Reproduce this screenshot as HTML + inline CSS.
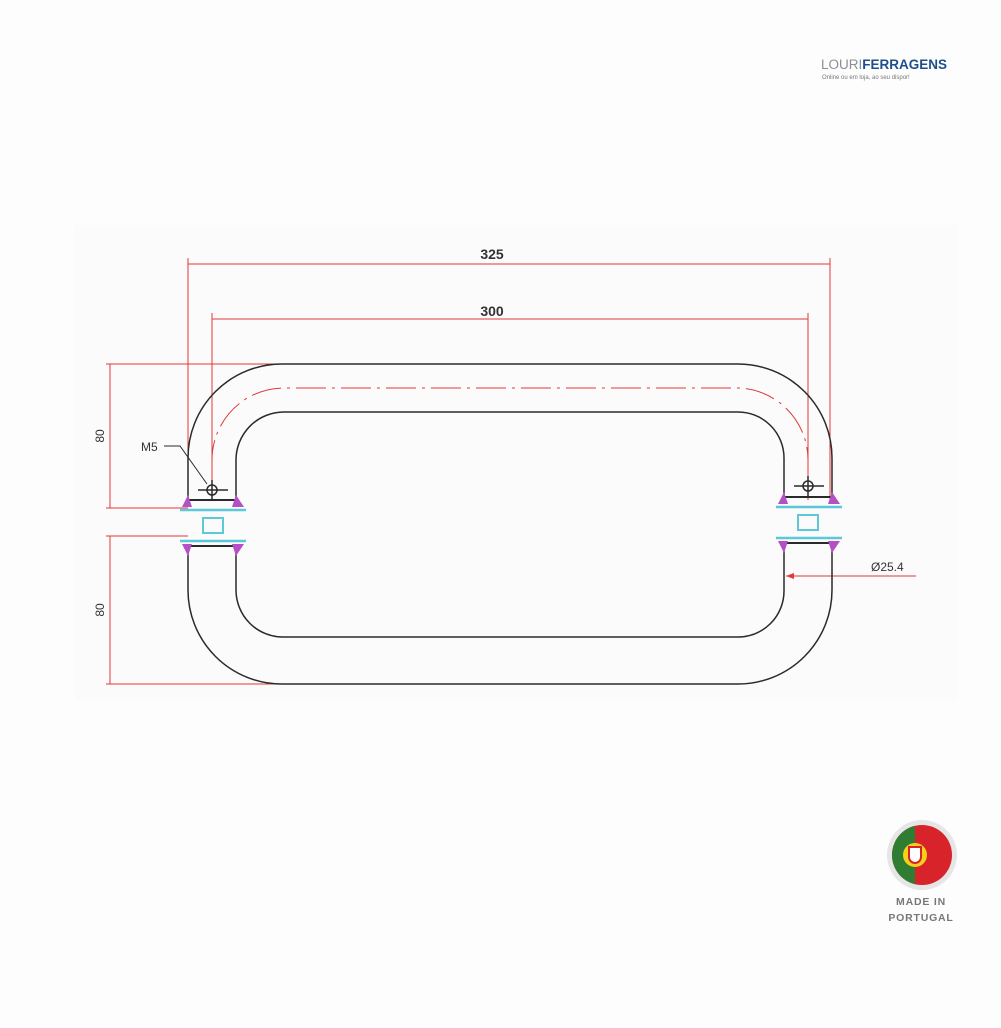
<!DOCTYPE html>
<html><head><style>
html,body{margin:0;padding:0;background:#fdfdfd;}
svg{display:block;}
</style></head><body>
<svg width="1001" height="1028" viewBox="0 0 1001 1028" xmlns="http://www.w3.org/2000/svg" font-family="Liberation Sans, sans-serif">
<rect width="1001" height="1028" fill="#fdfdfd"/>
<rect x="75" y="225" width="883" height="475" fill="#fbfbfb"/>
<!-- logo -->
<text x="821" y="69" font-size="13.5" fill="#8a8f96">LOURI<tspan fill="#1f4f8a" font-weight="bold">FERRAGENS</tspan></text>
<text x="822" y="79" font-size="6" fill="#777">Online ou em loja, ao seu dispor!</text>
<g fill="none" stroke-width="1.2">
<g stroke="#e03a3a" stroke-width="1">
<line x1="188" y1="264" x2="830" y2="264"/>
<line x1="212" y1="319" x2="808" y2="319"/>
<line x1="188" y1="258" x2="188" y2="500"/>
<line x1="830" y1="258" x2="830" y2="500"/>
<line x1="212" y1="313" x2="212" y2="500"/>
<line x1="808" y1="313" x2="808" y2="500"/>
<line x1="110" y1="364" x2="110" y2="508"/>
<line x1="110" y1="536" x2="110" y2="684"/>
<line x1="106" y1="364" x2="283" y2="364"/>
<line x1="106" y1="508" x2="188" y2="508"/>
<line x1="106" y1="536" x2="188" y2="536"/>
<line x1="106" y1="684" x2="283" y2="684"/>
<path d="M212 470 L212 460 A72 72 0 0 1 284 388 L738 388 A72 72 0 0 1 808 460 L808 470" stroke-dasharray="30 6 3 6"/>
<line x1="786" y1="576" x2="916" y2="576"/>
</g>
<g stroke="#2a2a2a" stroke-width="1.5">
<path d="M188 500 L188 458 A94 94 0 0 1 282 364 L738 364 A94 94 0 0 1 832 458 L832 497"/>
<path d="M236 500 L236 460 A48 48 0 0 1 284 412 L738 412 A46 46 0 0 1 784 458 L784 497"/>
<path d="M188 546 L188 590 A94 94 0 0 0 282 684 L738 684 A94 94 0 0 0 832 590 L832 543"/>
<path d="M236 546 L236 590 A47 47 0 0 0 283 637 L738 637 A46 46 0 0 0 784 591 L784 543"/>
<line x1="188" y1="500" x2="236" y2="500" stroke-width="2"/>
<line x1="784" y1="497" x2="832" y2="497" stroke-width="2"/>
<line x1="188" y1="546" x2="236" y2="546" stroke-width="2"/>
<line x1="784" y1="543" x2="832" y2="543" stroke-width="2"/>
<circle cx="212" cy="490" r="5"/><line x1="198" y1="490" x2="228" y2="490"/><line x1="212" y1="480" x2="212" y2="500"/>
<circle cx="808" cy="486" r="5"/><line x1="794" y1="486" x2="824" y2="486"/><line x1="808" y1="476" x2="808" y2="496"/>
<path d="M164 446 L180 446 L207 484" stroke-width="1"/>
</g>
<g stroke="#5cc8d8" stroke-width="2.5">
<line x1="180" y1="510" x2="246" y2="510"/>
<line x1="180" y1="541" x2="246" y2="541"/>
<rect x="203" y="518" width="20" height="15" stroke-width="2"/>
<line x1="776" y1="507" x2="842" y2="507"/>
<line x1="776" y1="538" x2="842" y2="538"/>
<rect x="798" y="515" width="20" height="15" stroke-width="2"/>
</g>
<g fill="#b44fc4" stroke="none">
<path d="M182 507 L188 495 L192 507Z"/><path d="M232 507 L236 495 L244 507Z"/>
<path d="M182 544 L188 556 L192 544Z"/><path d="M232 544 L236 556 L244 544Z"/>
<path d="M778 504 L784 492 L788 504Z"/><path d="M828 504 L832 492 L840 504Z"/>
<path d="M778 541 L784 553 L788 541Z"/><path d="M828 541 L832 553 L840 541Z"/>
</g>
</g>
<path d="M786 576 L794 573 L794 579Z" fill="#e03a3a"/>
<g font-size="14" font-weight="bold" fill="#333" text-anchor="middle">
<text x="492" y="259">325</text>
<text x="492" y="316">300</text>
</g>
<g font-size="12" fill="#333">
<text x="141" y="451">M5</text>
<text x="871" y="571">Ø25.4</text>
<text transform="translate(104,436) rotate(-90)" text-anchor="middle">80</text>
<text transform="translate(104,610) rotate(-90)" text-anchor="middle">80</text>
</g>
<circle cx="922" cy="855" r="35" fill="#e6e6e6"/>
<clipPath id="c"><circle cx="922" cy="855" r="30"/></clipPath>
<g clip-path="url(#c)">
<rect x="890" y="820" width="70" height="70" fill="#d8232a"/>
<rect x="890" y="820" width="25" height="70" fill="#2e7d32"/>
</g>
<circle cx="915" cy="855" r="12" fill="#f5d11a"/>
<path d="M909 847 h12 v10 a6 6 0 0 1 -12 0z" fill="#fff" stroke="#d8232a" stroke-width="2"/>
<g font-size="10.5" font-weight="bold" fill="#777" text-anchor="middle" letter-spacing="0.8">
<text x="921" y="905">MADE IN</text>
<text x="921" y="921">PORTUGAL</text>
</g>
</svg>
</body></html>
